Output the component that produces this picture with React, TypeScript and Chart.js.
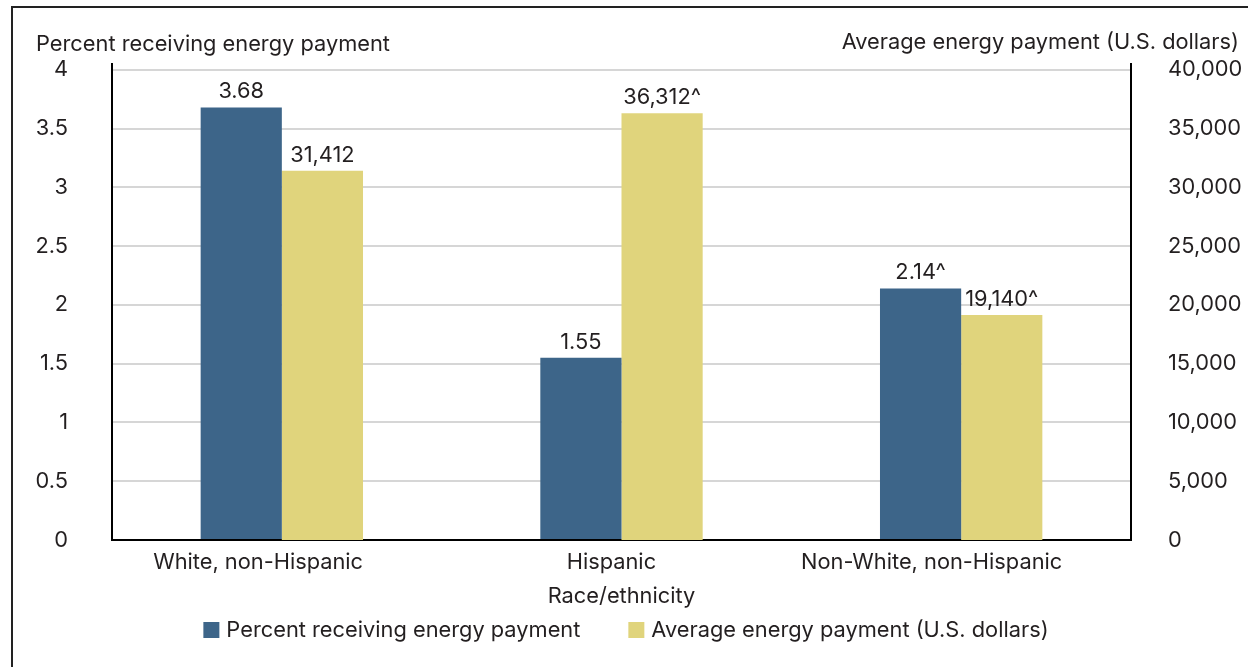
import React, { useEffect, useRef } from 'react';
import { Chart, registerables } from 'chart.js';

Chart.register(...registerables);

const categories = ['White, non-Hispanic', 'Hispanic', 'Non-White, non-Hispanic'];
const percentValues = [3.68, 1.55, 2.14];
const paymentValues = [31412, 36312, 19140];
const percentLabels = ['3.68', '1.55', '2.14^'];
const paymentLabels = ['31,412', '36,312^', '19,140^'];
const leftTicks = [0, 0.5, 1, 1.5, 2, 2.5, 3, 3.5, 4];
const rightTicks = [0, 5000, 10000, 15000, 20000, 25000, 30000, 35000, 40000];
const seriesNames = ['Percent receiving energy payment', 'Average energy payment (U.S. dollars)'];
const leftAxisTitle = 'Percent receiving energy payment';
const rightAxisTitle = 'Average energy payment (U.S. dollars)';
const xAxisTitle = 'Race/ethnicity';

const BLUE = '#3d6589';
const YELLOW = '#e0d47c';
const TEXT = '#231f20';
const FAMILY = 'Inter, "Noto Sans", sans-serif';
const SIZE = 21.8;
const FONT = `${SIZE}px ${FAMILY}`;

const overlayPlugin = {
  id: 'overlay',
  afterDraw(chart: any) {
    const ctx = chart.ctx;
    const area = chart.chartArea;
    const xScale = chart.scales.x;
    ctx.save();
    ctx.font = FONT;
    ctx.fillStyle = TEXT;

    // value labels
    const labelSets = [percentLabels, paymentLabels];
    chart.data.datasets.forEach((_ds: any, di: number) => {
      const meta = chart.getDatasetMeta(di);
      meta.data.forEach((bar: any, i: number) => {
        ctx.textAlign = 'center';
        ctx.textBaseline = 'alphabetic';
        ctx.fillText(labelSets[di][i], bar.x, bar.y - 9);
      });
    });

    // axis titles at top
    ctx.textBaseline = 'alphabetic';
    ctx.textAlign = 'left';
    ctx.fillText(leftAxisTitle, 36, 51);
    ctx.textAlign = 'right';
    ctx.fillText(rightAxisTitle, 1239, 49);

    // category labels
    ctx.textAlign = 'left';
    categories.forEach((c, i) => {
      const cx = xScale.getPixelForValue(i);
      const w = ctx.measureText(c).width;
      ctx.fillText(c, cx - 0.613 * w, area.bottom + 29);
    });

    // x axis title
    ctx.textAlign = 'center';
    ctx.fillText(xAxisTitle, (area.left + area.right) / 2, area.bottom + 63);

    // legend
    const box = 16;
    const gapText = 7;
    const gapItems = 48;
    const colors = chart.data.datasets.map((d: any) => d.backgroundColor);
    const widths = seriesNames.map((n) => ctx.measureText(n).width);
    const total = widths.reduce((a, w) => a + box + gapText + w, 0) + gapItems * (seriesNames.length - 1);
    let lx = chart.width / 2 + 2 - total / 2;
    const ly = area.bottom + 82;
    ctx.textAlign = 'left';
    seriesNames.forEach((n, i) => {
      ctx.fillStyle = colors[i];
      ctx.fillRect(lx, ly, box, box);
      ctx.fillStyle = TEXT;
      ctx.fillText(n, lx + box + gapText, ly + 15);
      lx += box + gapText + widths[i] + gapItems;
    });
    ctx.restore();
  },
};

export default function App() {
  const ref = useRef<HTMLCanvasElement | null>(null);
  useEffect(() => {
    document.body.style.margin = '0';
    const canvas = ref.current;
    if (!canvas) return;
    const chart = new Chart(canvas, {
      type: 'bar',
      data: {
        labels: categories,
        datasets: [
          {
            label: seriesNames[0],
            data: percentValues,
            backgroundColor: BLUE,
            yAxisID: 'y',
            categoryPercentage: 0.478,
            barPercentage: 1,
          },
          {
            label: seriesNames[1],
            data: paymentValues,
            backgroundColor: YELLOW,
            yAxisID: 'y1',
            categoryPercentage: 0.478,
            barPercentage: 1,
          },
        ],
      },
      options: {
        animation: false,
        responsive: false,
        maintainAspectRatio: false,
        layout: { padding: { top: 64, bottom: 127, left: 0, right: 0 } },
        plugins: {
          legend: { display: false },
          tooltip: { enabled: false },
        },
        scales: {
          x: {
            type: 'category',
            grid: { display: false, drawTicks: false },
            border: { display: true, color: '#000', width: 2 },
            ticks: { display: false },
            afterFit: (s: any) => {
              s.height = 0;
            },
          },
          y: {
            position: 'left',
            min: 0,
            max: 4.05,
            afterBuildTicks: (s: any) => {
              s.ticks = leftTicks.map((v) => ({ value: v }));
            },
            ticks: {
              padding: 44,
              color: TEXT,
              font: { family: FAMILY, size: SIZE },
              callback: (v: any) => String(v),
            },
            grid: { color: '#d6d6d6', lineWidth: 2, drawTicks: false },
            border: { display: true, color: '#000', width: 2 },
            afterFit: (s: any) => {
              s.width = 112;
            },
          },
          y1: {
            position: 'right',
            min: 0,
            max: 40500,
            afterBuildTicks: (s: any) => {
              s.ticks = rightTicks.map((v) => ({ value: v }));
            },
            ticks: {
              padding: 37,
              color: TEXT,
              font: { family: FAMILY, size: SIZE },
              callback: (v: any) => Number(v).toLocaleString('en-US'),
            },
            grid: { display: false, drawTicks: false },
            border: { display: true, color: '#000', width: 2 },
            afterFit: (s: any) => {
              s.width = 117;
            },
          },
        },
      } as any,
      plugins: [overlayPlugin],
    });
    return () => chart.destroy();
  }, []);

  return (
    <div style={{ position: 'fixed', left: 0, top: 0, width: 1248, height: 667, background: '#fff', overflow: 'hidden' }}>
      <canvas ref={ref} width={1248} height={667} style={{ display: 'block', width: 1248, height: 667 }} />
      <div
        style={{
          position: 'absolute',
          left: 11,
          top: 6,
          width: 1400,
          height: 800,
          border: '2px solid #222',
          pointerEvents: 'none',
        }}
      />
    </div>
  );
}
